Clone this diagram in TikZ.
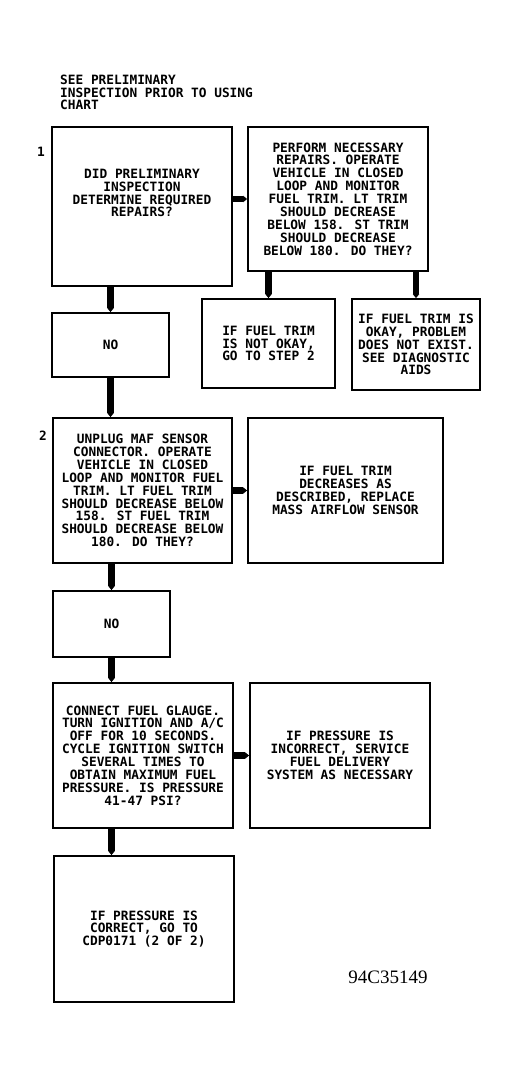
\documentclass[tikz,border=0pt]{standalone}
\usepackage{fontspec}
\newfontfamily\plotfont{DejaVu Sans Mono}
\newfontfamily\serialfont{Liberation Serif}
\usetikzlibrary{arrows.meta}
\begin{document}
\begin{tikzpicture}[x=1pt,y=-1pt,
  plain/.style={inner sep=0pt, font=\plotfont\bfseries\fontsize{12.8}{12.9}\selectfont},
  box/.style={draw, line width=1.8pt, rectangle, inner sep=0pt, align=center,
    font=\plotfont\bfseries\fontsize{12.8}{12.9}\selectfont},
  txt/.style={inner sep=0pt, align=center, font=\plotfont\bfseries\fontsize{12.8}{12.9}\selectfont},
  flow/.style={line width=6.5pt, -{Triangle[length=4pt,width=6.5pt,line width=0pt]}}
]
\useasboundingbox (0,0) rectangle (522,1078);

\node[plain, anchor=north west, align=left, font=\plotfont\bfseries\fontsize{12.8}{12.6}\selectfont] (head) at (60,75)
  {SEE PRELIMINARY\\INSPECTION PRIOR TO USING\\CHART};

\node[plain] (n1) at (41,152) {1};
\node[plain] (n2) at (43,436) {2};

\node[box, minimum width=180pt, minimum height=159pt] (b1) at (142,206.5) {};
\node[txt] (b1t) at (142,193) {DID PRELIMINARY\\INSPECTION\\DETERMINE REQUIRED\\REPAIRS?};

\node[box, minimum width=180pt, minimum height=144pt] (r1) at (338,199)
  {PERFORM NECESSARY\\REPAIRS. OPERATE\\VEHICLE IN CLOSED\\LOOP AND MONITOR\\FUEL TRIM. LT TRIM\\SHOULD DECREASE\\BELOW 158. ST TRIM\\SHOULD DECREASE\\BELOW 180. DO THEY?};

\node[box, minimum width=133pt, minimum height=89pt] (a) at (268.5,343.5)
  {IF FUEL TRIM\\IS NOT OKAY,\\GO TO STEP 2};
\node[box, minimum width=128pt, minimum height=91pt] (bb) at (416,344.5)
  {IF FUEL TRIM IS\\OKAY, PROBLEM\\DOES NOT EXIST.\\SEE DIAGNOSTIC\\AIDS};

\node[box, minimum width=117pt, minimum height=64pt] (no1) at (110.5,345) {NO};

\node[box, minimum width=179pt, minimum height=145pt] (b2) at (142.5,490.5)
  {UNPLUG MAF SENSOR\\CONNECTOR. OPERATE\\VEHICLE IN CLOSED\\LOOP AND MONITOR FUEL\\TRIM. LT FUEL TRIM\\SHOULD DECREASE BELOW\\158. ST FUEL TRIM\\SHOULD DECREASE BELOW\\180. DO THEY?};
\node[box, minimum width=195pt, minimum height=145pt] (r2) at (345.5,490.5)
  {IF FUEL TRIM\\DECREASES AS\\DESCRIBED, REPLACE\\MASS AIRFLOW SENSOR};

\node[box, minimum width=117pt, minimum height=66pt] (no2) at (111.5,624) {NO};

\node[box, minimum width=180pt, minimum height=145pt] (b3) at (143,755.5)
  {CONNECT FUEL GLAUGE.\\TURN IGNITION AND A/C\\OFF FOR 10 SECONDS.\\CYCLE IGNITION SWITCH\\SEVERAL TIMES TO\\OBTAIN MAXIMUM FUEL\\PRESSURE. IS PRESSURE\\41-47 PSI?};
\node[box, minimum width=180pt, minimum height=145pt] (r3) at (340,755.5)
  {IF PRESSURE IS\\INCORRECT, SERVICE\\FUEL DELIVERY\\SYSTEM AS NECESSARY};

\node[box, minimum width=180pt, minimum height=146pt] (b4) at (144,929)
  {IF PRESSURE IS\\CORRECT, GO TO\\CDP0171 (2 OF 2)};

\node[inner sep=0pt, font=\serialfont\fontsize{19}{19}\selectfont] (code) at (388,977) {94C35149};

\draw[flow] (no1.north |- b1.south) -- (no1.north);
\draw[flow] (no1.south) -- (no1.south |- b2.north);
\draw[flow] (no2.north |- b2.south) -- (no2.north);
\draw[flow] (no2.south) -- (no2.south |- b3.north);
\draw[flow] (no2.south |- b3.south) -- (no2.south |- b4.north);
\draw[flow] (a.north |- r1.south) -- (a.north);
\draw[flow] (bb.north |- r1.south) -- (bb.north);
\draw[flow] (r1.west -| b1.east) -- (r1.west);
\draw[flow] (b2.east) -- (r2.west);
\draw[flow] (b3.east) -- (r3.west);
\end{tikzpicture}
\end{document}
